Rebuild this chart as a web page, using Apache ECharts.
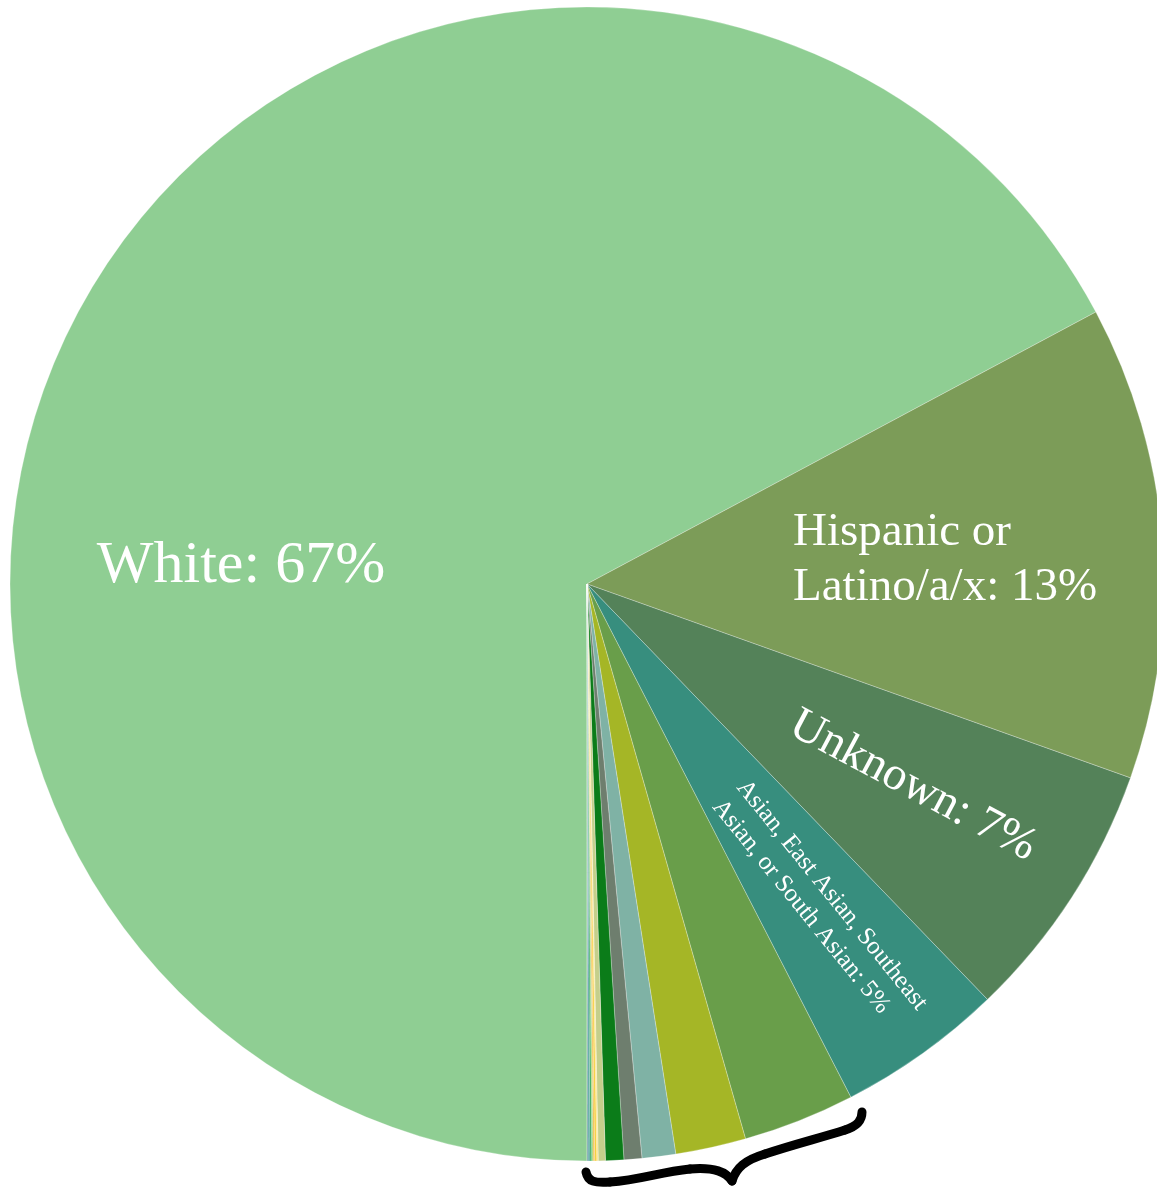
<!DOCTYPE html>
<html>
<head>
<meta charset="utf-8">
<script src="https://cdn.jsdelivr.net/npm/echarts@6/dist/echarts.min.js"></script>
<style>
html,body{margin:0;padding:0;background:#fff;}
#chart{width:1157px;height:1189px;}
</style>
</head>
<body>
<div id="chart"></div>
<script>
// ---- data ----
var categories = [
  "White",
  "Hispanic or Latino/a/x",
  "Unknown",
  "Asian, East Asian, Southeast Asian, or South Asian",
  "Black or African American",
  "Two or More Races",
  "International",
  "Middle Eastern or North African",
  "American Indian or Alaska Native",
  "Native Hawaiian or Pacific Islander",
  "Other A",
  "Other B",
  "Other C",
  "Other D",
  "Other E",
  "Other F",
  "Other G"
];
var values = [67.2, 13.27, 7.34, 4.65, 3.13, 1.97, 0.94, 0.5, 0.51, 0.2, 0.04, 0.06, 0.04, 0.04, 0.05, 0.05, 0.03];
var labelTexts = [
  "White: 67%",
  "Hispanic or\nLatino/a/x: 13%",
  "Unknown: 7%",
  "Asian, East Asian, Southeast\nAsian, or South Asian: 5%"
];

// ---- styles ----
var colors = ["#8fce93", "#7c9c58", "#548259", "#378e7e", "#699e4a", "#a5b626", "#7fb2a5", "#6e7e6e", "#0b7c19", "#c5cf8b", "#fbe58a", "#f6cf3e", "#f2b33a", "#a8d46a", "#2fa857", "#3f9b91", "#6f9ba8"];
var labelStyles = [
  {fontSize: 60, lineHeight: 66, x: 241, y: 566, rotate: 0, align: "center"},
  {fontSize: 47, lineHeight: 55, x: 793, y: 560, rotate: 0, align: "left"},
  {fontSize: 47, lineHeight: 54, x: 913, y: 786, rotate: -28, align: "center"},
  {fontSize: 25, lineHeight: 31, x: 729, y: 793, rotate: -51, align: "left"}
];
// brace annotation segments (cubic curves): [x1,y1,cp1x,cp1y,cp2x,cp2y,x2,y2]
var braceSegs = [
  [586, 1172, 588, 1182, 595, 1183, 610, 1182],
  [610, 1182, 640, 1180, 660, 1172, 690, 1169],
  [690, 1169, 715, 1167, 726, 1172, 732, 1181],
  [732, 1181, 736, 1168, 745, 1160, 765, 1154],
  [765, 1154, 795, 1144, 820, 1138, 845, 1130],
  [845, 1130, 858, 1126, 862, 1120, 862, 1112]
];

var chart = echarts.init(document.getElementById("chart"), null, {renderer: "canvas"});

var data = categories.map(function (c, i) {
  var st = labelStyles[i];
  return {
    name: c,
    value: values[i],
    itemStyle: {color: colors[i]},
    label: st ? {
      show: true,
      formatter: labelTexts[i],
      fontSize: st.fontSize,
      lineHeight: st.lineHeight,
      align: st.align
    } : {show: false}
  };
});

var braceEls = braceSegs.map(function (s) {
  return {
    type: "bezierCurve",
    silent: true,
    shape: {x1: s[0], y1: s[1], cpx1: s[2], cpy1: s[3], cpx2: s[4], cpy2: s[5], x2: s[6], y2: s[7]},
    style: {stroke: "#000000", lineWidth: 9, lineCap: "round", fill: null}
  };
});

chart.setOption({
  animation: false,
  backgroundColor: "#ffffff",
  series: [{
    type: "pie",
    center: [587, 584],
    radius: [0, 577],
    startAngle: -90,
    clockwise: true,
    avoidLabelOverlap: false,
    silent: true,
    itemStyle: {borderColor: "rgba(255,255,255,0.45)", borderWidth: 0.6},
    label: {
      position: "inside",
      color: "#ffffff",
      fontFamily: "Liberation Serif",
      fontWeight: "normal"
    },
    labelLine: {show: false},
    labelLayout: function (params) {
      var st = labelStyles[params.dataIndex];
      if (!st) return {};
      return {x: st.x, y: st.y, rotate: st.rotate, align: st.align, verticalAlign: "middle"};
    },
    data: data
  }],
  graphic: braceEls
});
</script>
</body>
</html>
